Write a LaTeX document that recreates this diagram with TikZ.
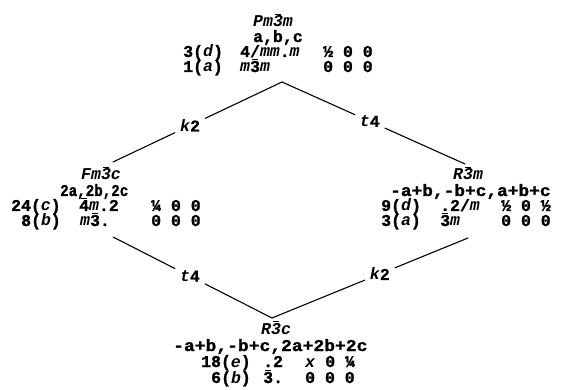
\documentclass[tikz,border=0pt]{standalone}
\usepackage{fontspec}
\setmonofont{Liberation Mono}[BoldFeatures={FakeBold=1.3}]
% bar over a single character (rotoinversion axes)
\newcommand\obar[1]{\makebox[0pt][l]{\hspace{0.13em}\rule[0.74em]{0.34em}{0.07em}}#1}
\begin{document}
\begin{tikzpicture}[x=1pt,y=-1pt,
  txt/.style={anchor=base west,inner sep=0pt,font=\ttfamily\bfseries\fontsize{16.5}{18}\selectfont},
  idx/.style={inner sep=5pt,font=\ttfamily\bfseries\fontsize{16.5}{18}\selectfont},
  link/.style={line width=1.1pt,line cap=round}]
\useasboundingbox (0,0) rectangle (565,390);

% Pm-3m
\node[txt] (Psg) at (253,27) {\itshape Pm\obar{3}m};
\node[txt] (Pbas) at (253,42) {a,b,c};
\node[txt] (Pw1) at (183,57) {3(\textit{d})};
\node[txt] (Ps1) at (240,57) {4/\textit{mm}.\textit{m}};
\node[txt] (Pc1) at (323,57) {½ 0 0};
\node[txt] (Pw2) at (183,72) {1(\textit{a})};
\node[txt] (Ps2) at (240,72) {\textit{m}\obar{3}\textit{m}};
\node[txt] (Pc2) at (323,72) {0 0 0};

% Fm-3c
\node[txt] (Fsg) at (81,180) {\itshape Fm\obar{3}c};
\node[txt] (Fbas) at (60,196) {\scalebox{0.86}[1]{2a,2b,2c}};
\node[txt] (Fw1) at (11,211) {24(\textit{c})};
\node[txt] (Fs1) at (79,211) {\obar{4}\textit{m}.2};
\node[txt] (Fc1) at (151,211) {¼ 0 0};
\node[txt] (Fw2) at (21,226) {8(\textit{b})};
\node[txt] (Fs2) at (80,226) {\textit{m}\obar{3}.};
\node[txt] (Fc2) at (151,226) {0 0 0};

% R-3m
\node[txt] (Rsg) at (453,180) {\itshape R\obar{3}m};
\node[txt] (Rbas) at (390,196) {\scalebox{1.08}[1]{-a+b,-b+c,a+b+c}};
\node[txt] (Rw1) at (381,211) {9(\textit{d})};
\node[txt] (Rs1) at (440,211) {.2/\textit{m}};
\node[txt] (Rc1) at (501,211) {½ 0 ½};
\node[txt] (Rw2) at (381,226) {3(\textit{a})};
\node[txt] (Rs2) at (440,226) {\obar{3}\textit{m}};
\node[txt] (Rc2) at (501,226) {0 0 0};

% R-3c
\node[txt] (Csg) at (261,334) {\itshape R\obar{3}c};
\node[txt] (Cbas) at (173,351) {\scalebox{1.09}[1]{-a+b,-b+c,2a+2b+2c}};
\node[txt] (Cw1) at (201,367) {18(\textit{e})};
\node[txt] (Cs1) at (263,367) {.2};
\node[txt] (Cc1) at (305,367) {\textit{x} 0 ¼};
\node[txt] (Cw2) at (211,383) {6(\textit{b})};
\node[txt] (Cs2) at (263,383) {\obar{3}.};
\node[txt] (Cc2) at (305,383) {0 0 0};

% ends of the group--subgroup lines
\coordinate (apexT) at (282,82);
\coordinate (endL1) at (113,162);
\coordinate (endR1) at (465,164);
\coordinate (endL2) at (113,237);
\coordinate (endR2) at (468,238);
\coordinate (apexB) at (272,318);

% index labels on the lines
\path (apexT) -- (endL1) node[idx,pos=0.544] (kA) {\textit{k}2};
\path (apexT) -- (endR1) node[idx,pos=0.48] (tA) {\textit{t}4};
\path (endL2) -- (apexB) node[idx,pos=0.484] (tB) {\textit{t}4};
\path (apexB) -- (endR2) node[idx,pos=0.55] (kB) {\textit{k}2};

\draw[link] (apexT) -- (kA);
\draw[link] (kA) -- (endL1);
\draw[link] (apexT) -- (tA);
\draw[link] (tA) -- (endR1);
\draw[link] (endL2) -- (tB);
\draw[link] (tB) -- (apexB);
\draw[link] (apexB) -- (kB);
\draw[link] (kB) -- (endR2);
\end{tikzpicture}
\end{document}
